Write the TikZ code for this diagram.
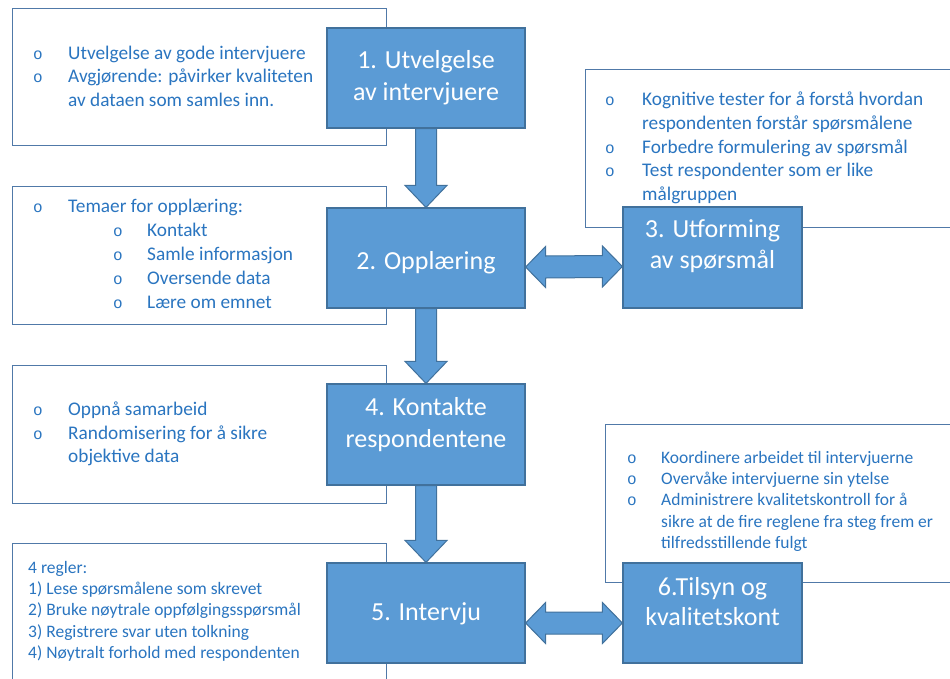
\documentclass[tikz,border=0pt]{standalone}
\usepackage{fontspec}
\setmainfont{Carlito}
\newfontfamily\bulfont{Liberation Mono}
\usetikzlibrary{calc}

\definecolor{boxblue}{HTML}{5B9BD5}
\definecolor{boxedge}{HTML}{41719C}
\definecolor{noteedge}{HTML}{5079A8}
\definecolor{txtblue}{HTML}{2A75C0}

% list helpers: hollow bullet with a fixed indent, and a continuation line
\newcommand\bul{{\bulfont\fontsize{16}{16}\selectfont o}}
\newcommand\bitem[2][35pt]{\makebox[#1][l]{\bul}#2}
\newcommand\contline[2][35pt]{\hspace*{#1}#2}

% block arrows between the step boxes
\newcommand\downarrowblk[2]{%
  \path[blockarrow] ($(#1.south)+(-10.5,0)$) -- ($(#2.north)+(-10.5,-22)$)
    -- ($(#2.north)+(-21,-22)$) -- (#2.north) -- ($(#2.north)+(21,-22)$)
    -- ($(#2.north)+(10.5,-22)$) -- ($(#1.south)+(10.5,0)$) -- cycle;}
\newcommand\dblarrowblk[3]{%
  \path[blockarrow] ($(#1.east)+(0,#3)$) -- ($(#1.east)+(20,#3-20.5)$)
    -- ($(#1.east)+(20,#3-11)$) -- ($(#2.west)+(-20,#3-11)$)
    -- ($(#2.west)+(-20,#3-20.5)$) -- ($(#2.west)+(0,#3)$)
    -- ($(#2.west)+(-20,#3+20.5)$) -- ($(#2.west)+(-20,#3+11)$)
    -- ($(#1.east)+(20,#3+11)$) -- ($(#1.east)+(20,#3+20.5)$) -- cycle;}

\pgfdeclarelayer{paper}
\pgfdeclarelayer{arrows}
\pgfsetlayers{paper,arrows,main}

\begin{document}
\begin{tikzpicture}[x=1pt,y=-1pt,
  notebox/.style={draw=noteedge, line width=1.2pt, fill=white, inner sep=0,
    anchor=north west},
  stepbox/.style={draw=boxedge, fill=boxblue, line width=1.2pt, inner sep=0,
    minimum width=198pt, minimum height=100pt},
  notetext/.style={anchor=base west, inner sep=0, text=txtblue,
    font=\fontsize{19.3}{23.5}\selectfont},
  smalltext/.style={notetext, font=\fontsize{17.5}{21.25}\selectfont},
  steptext/.style={anchor=base, inner sep=0, text=white,
    font=\fontsize{26}{32}\selectfont},
  blockarrow/.style={fill=boxblue, draw=boxedge, line width=1pt}]

\useasboundingbox (0,0) rectangle (950,678);
\begin{pgfonlayer}{paper}
  \fill[white] (0,0) rectangle (950,678);
\end{pgfonlayer}

% note boxes
\node[notebox, minimum width=374pt, minimum height=137pt] (T1) at (12,8) {};
\node[notebox, minimum width=374pt, minimum height=138pt] (T2) at (12,186) {};
\node[notebox, minimum width=400pt, minimum height=158pt] (T3) at (585,69) {};
\node[notebox, minimum width=374pt, minimum height=138pt] (T4) at (12,365) {};
\node[notebox, minimum width=374pt, minimum height=200pt] (T5) at (12,543) {};
\node[notebox, minimum width=400pt, minimum height=158pt] (T6) at (605,424) {};

% note texts
\node[notetext] (L1) at (33,59.3) {\begin{tabular}[t]{@{}l@{}}
  \bitem{Utvelgelse av gode intervjuere}\\
  \bitem{Avgjørende: påvirker kvaliteten}\\
  \contline{av dataen som samles inn.}\end{tabular}};
\node[notetext, font=\fontsize{19.3}{24}\selectfont] (L2) at (33,212.3) {\begin{tabular}[t]{@{}l@{}}
  \bitem{Temaer for opplæring:}\\
  \contline[80pt]{\bitem[34pt]{Kontakt}}\\
  \contline[80pt]{\bitem[34pt]{Samle informasjon}}\\
  \contline[80pt]{\bitem[34pt]{Oversende data}}\\
  \contline[80pt]{\bitem[34pt]{Lære om emnet}}\end{tabular}};
\node[notetext, font=\fontsize{19.3}{23.75}\selectfont] (L3) at (605,105.7) {\begin{tabular}[t]{@{}l@{}}
  \bitem[37pt]{Kognitive tester for å forstå hvordan}\\
  \contline[37pt]{respondenten forstår spørsmålene}\\
  \bitem[37pt]{Forbedre formulering av spørsmål}\\
  \bitem[37pt]{Test respondenter som er like}\\
  \contline[37pt]{målgruppen}\end{tabular}};
\node[notetext] (L4) at (33,415.5) {\begin{tabular}[t]{@{}l@{}}
  \bitem{Oppnå samarbeid}\\
  \bitem{Randomisering for å sikre}\\
  \contline{objektive data}\end{tabular}};
\node[smalltext] (L5) at (28,573.3) {\begin{tabular}[t]{@{}l@{}}
  4 regler:\\
  1) Lese spørsmålene som skrevet\\
  2) Bruke nøytrale oppfølgingsspørsmål\\
  3) Registrere svar uten tolkning\\
  4) Nøytralt forhold med respondenten\end{tabular}};
\node[smalltext] (L6) at (627,463.3) {\begin{tabular}[t]{@{}l@{}}
  \bitem[34pt]{Koordinere arbeidet til intervjuerne}\\
  \bitem[34pt]{Overvåke intervjuerne sin ytelse}\\
  \bitem[34pt]{Administrere kvalitetskontroll for å}\\
  \contline[34pt]{sikre at de fire reglene fra steg frem er}\\
  \contline[34pt]{tilfredsstillende fulgt}\end{tabular}};

% step boxes
\node[stepbox] (B1) at (426,78) {};
\node[stepbox] (B2) at (426,258) {};
\node[stepbox, minimum width=179pt, minimum height=101pt] (B3) at (712.5,257.5) {};
\node[stepbox, minimum height=101pt] (B4) at (426,434.5) {};
\node[stepbox] (B5) at (426,613) {};
\node[stepbox, minimum width=179pt] (B6) at (712.5,613) {};

% step labels
\node[steptext] (S1) at (426,68.3) {\begin{tabular}[t]{@{}c@{}}1. Utvelgelse\\av intervjuere\end{tabular}};
\node[steptext] (S2) at (426,269.5) {2. Opplæring};
\node[steptext, font=\fontsize{26}{31}\selectfont] (S3) at (712.5,237.3) {\begin{tabular}[t]{@{}c@{}}3. Utforming\\av spørsmål\end{tabular}};
\node[steptext] (S4) at (426,415) {\begin{tabular}[t]{@{}c@{}}4. Kontakte\\respondentene\end{tabular}};
\node[steptext] (S5) at (426,620) {5. Intervju};
\node[steptext, font=\fontsize{26}{30}\selectfont] (S6) at (712.5,595) {\begin{tabular}[t]{@{}c@{}}6.Tilsyn og\\kvalitetskont\end{tabular}};

% arrows behind the boxes
\begin{pgfonlayer}{arrows}
  \downarrowblk{B1}{B2}
  \downarrowblk{B2}{B4}
  \downarrowblk{B4}{B5}
  \dblarrowblk{B2}{B3}{9}
  \dblarrowblk{B5}{B6}{10}
\end{pgfonlayer}
\end{tikzpicture}
\end{document}
